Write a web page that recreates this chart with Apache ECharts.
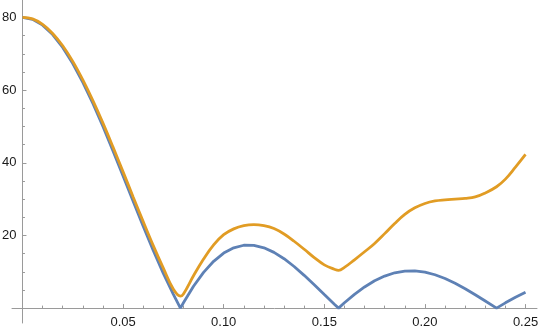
<!DOCTYPE html>
<html>
<head>
<meta charset="utf-8">
<script src="https://cdn.jsdelivr.net/npm/echarts@6/dist/echarts.min.js"></script>
<style>html,body{margin:0;padding:0;background:#fff;}#c{width:540px;height:335px;}</style>
</head>
<body>
<div id="c"></div>
<script>
var xs = [0,0.005,0.01,0.015,0.02,0.025,0.03,0.035,0.04,0.045,0.05,0.055,0.06,0.065,0.07,0.075,0.0785,0.08,0.085,0.09,0.095,0.1,0.105,0.11,0.115,0.12,0.125,0.13,0.135,0.14,0.145,0.15,0.155,0.1571,0.16,0.165,0.17,0.175,0.18,0.185,0.19,0.195,0.2,0.205,0.21,0.215,0.22,0.225,0.23,0.2356,0.24,0.245,0.25];
var blueY = [80,79.47,77.88,75.29,71.74,67.32,62.14,56.31,49.98,43.28,36.37,29.40,22.52,15.86,9.57,3.76,0,1.46,6.01,9.83,12.88,15.14,16.60,17.30,17.28,16.60,15.34,13.59,11.45,9.02,6.41,3.73,1.07,0,1.46,3.78,5.81,7.51,8.82,9.72,10.19,10.24,9.89,9.18,8.14,6.83,5.32,3.66,1.94,0,1.45,2.99,4.35];
var orangeY = [80,79.6,78.1,75.6,72.2,67.9,62.8,57.1,50.9,44.3,37.5,30.6,23.8,17.2,11.0,5.2,3.3,3.9,8.9,13.5,17.4,20.2,21.8,22.7,23.0,22.7,21.9,20.4,18.4,16.2,13.9,11.9,10.7,10.4,11.2,13.3,15.5,17.8,20.5,23.3,25.8,27.6,28.8,29.5,29.8,30.0,30.2,30.6,31.7,33.4,35.5,38.8,42.3];
var xMajor = [0.05,0.10,0.15,0.20,0.25];
var xMinor = [0.01,0.02,0.03,0.04,0.06,0.07,0.08,0.09,0.11,0.12,0.13,0.14,0.16,0.17,0.18,0.19,0.21,0.22,0.23,0.24];
var yMajor = [20,40,60,80];
var yMinor = [5,10,15,25,30,35,45,50,55,65,70,75];

var AX = '#9a9a9a';
var FONT = "'Liberation Sans', Arial, sans-serif";
function pairs(x, y){ var o=[]; for (var i=0;i<x.length;i++) o.push([x[i], y[i]]); return o; }

var X0 = -0.0052, X1 = 0.2557, Y0 = -4.1, Y1 = 84.8;
var chart = echarts.init(document.getElementById('c'), null, {renderer:'canvas'});
chart.setOption({
  animation: false,
  backgroundColor: '#fff',
  grid: {left: 12, right: 3, top: 0, bottom: 12, containLabel: false, outerBoundsMode: 'none'},
  xAxis: [{
    type: 'value', min: X0, max: X1, position: 'bottom',
    axisLine: {show: true, onZero: true, onZeroAxisIndex: 0, lineStyle: {color: AX, width: 1}},
    axisTick: {show: true, inside: true, length: 4, customValues: xMajor, lineStyle: {color: AX}},
    axisLabel: {show: true, customValues: xMajor, margin: -7, color: '#1a1a1a', fontSize: 13, fontFamily: FONT,
      formatter: function(v){ return v.toFixed(2); }},
    splitLine: {show: false}
  },{
    type: 'value', min: X0, max: X1, position: 'bottom',
    axisLine: {show: false, onZero: true, onZeroAxisIndex: 0},
    axisTick: {show: true, inside: true, length: 2.5, customValues: xMinor, lineStyle: {color: AX}},
    axisLabel: {show: false},
    splitLine: {show: false}
  }],
  yAxis: [{
    type: 'value', min: Y0, max: Y1, position: 'left',
    axisLine: {show: true, onZero: true, onZeroAxisIndex: 0, lineStyle: {color: AX, width: 1}},
    axisTick: {show: true, inside: true, length: 4, customValues: yMajor, lineStyle: {color: AX}},
    axisLabel: {show: true, customValues: yMajor, margin: -4.5, color: '#1a1a1a', fontSize: 13, fontFamily: FONT},
    splitLine: {show: false}
  },{
    type: 'value', min: Y0, max: Y1, position: 'left',
    axisLine: {show: false, onZero: true, onZeroAxisIndex: 0},
    axisTick: {show: true, inside: true, length: 2.5, customValues: yMinor, lineStyle: {color: AX}},
    axisLabel: {show: false},
    splitLine: {show: false}
  }],
  series: [{
    type: 'line', xAxisIndex: 0, yAxisIndex: 0, data: pairs(xs, blueY),
    showSymbol: false, smooth: false, lineStyle: {color: '#5e81b5', width: 2.8}, itemStyle: {color: '#5e81b5'}
  },{
    type: 'line', xAxisIndex: 0, yAxisIndex: 0, data: pairs(xs, orangeY),
    showSymbol: false, smooth: 0.4, lineStyle: {color: '#e19c24', width: 2.8}, itemStyle: {color: '#e19c24'}
  }]
});
</script>
</body>
</html>
